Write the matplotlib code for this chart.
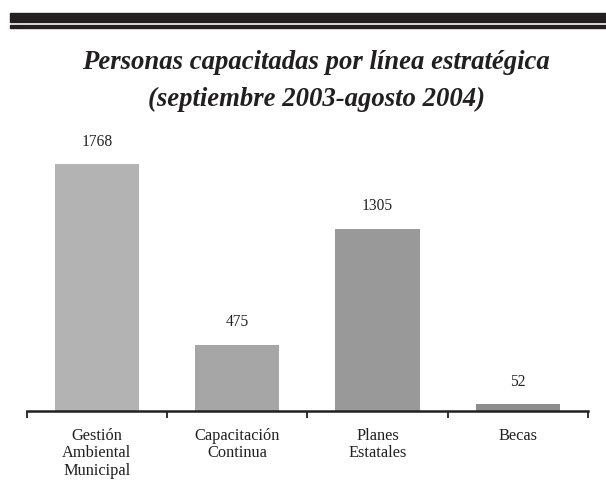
import matplotlib
matplotlib.use("Agg")
import matplotlib.pyplot as plt
from matplotlib.patches import Rectangle

categories = ["Gestión\nAmbiental\nMunicipal", "Capacitación\nContinua", "Planes\nEstatales", "Becas"]
values = [1768, 475, 1305, 52]
colors = ["#b3b3b3", "#a6a6a6", "#999999", "#8c8c8c"]
title_line1 = "Personas capacitadas por línea estratégica"
title_line2 = "(septiembre 2003-agosto 2004)"

W, H = 606, 503
fig = plt.figure(figsize=(W / 100, H / 100), dpi=100)
serif = ["Liberation Serif", "DejaVu Serif"]

# top rules
fig.patches.append(Rectangle((10 / W, 1 - 22 / H), (W - 10) / W, 9 / H,
                             transform=fig.transFigure, color="#231f20", zorder=5))
fig.patches.append(Rectangle((10 / W, 1 - 27.5 / H), (W - 10) / W, 2.5 / H,
                             transform=fig.transFigure, color="#231f20", zorder=5))

fig.text(316 / W, 1 - 63 / H, title_line1, ha="center", va="center",
         family=serif, fontsize=19.3, fontweight="bold", fontstyle="italic", color="#231f20")
fig.text(316 / W, 1 - 99 / H, title_line2, ha="center", va="center",
         family=serif, fontsize=19.3, fontweight="bold", fontstyle="italic", color="#231f20")

left = 26.7 / W
right = 588 / W
bottom = (H - 411) / H
top = (H - 131.6) / H
ax = fig.add_axes([left, bottom, right - left, top - bottom])

x = list(range(len(categories)))
ax.bar(x, values, width=0.6, color=colors, zorder=2)
for xi, v in zip(x, values):
    ax.annotate(str(v), (xi, v), xytext=(0, 16), textcoords="offset points",
                ha="center", va="center", family=serif, fontsize=11.2, color="#231f20")

ax.set_xlim(-0.5, len(categories) - 0.5)
ax.set_ylim(0, 2000)
for s in ["top", "right", "left"]:
    ax.spines[s].set_visible(False)
ax.spines["bottom"].set_linewidth(1.8)
ax.spines["bottom"].set_color("#231f20")
ax.set_yticks([])
ax.set_xticks([i - 0.5 for i in range(len(categories) + 1)])
ax.set_xticklabels([])
ax.tick_params(axis="x", which="major", direction="out", length=5, width=1.3, color="#231f20")
ax.set_xticks(x, minor=True)
ax.set_xticklabels(categories, minor=True, family=serif, fontsize=11.8, color="#231f20",
                   linespacing=1.12)
ax.tick_params(axis="x", which="minor", length=0, pad=12)

fig.savefig("out.png", dpi=100)
